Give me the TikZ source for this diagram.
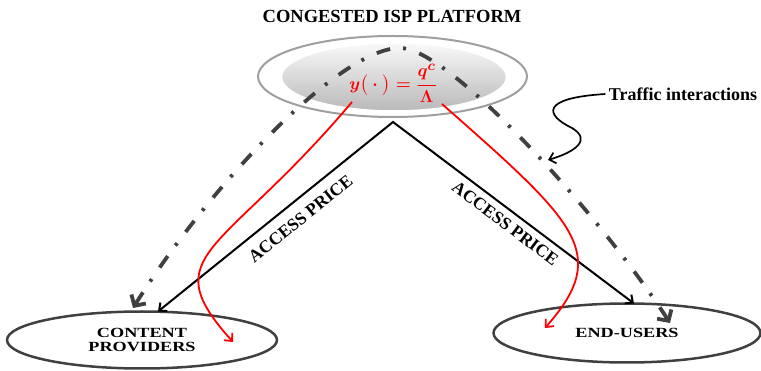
\documentclass[tikz,border=0pt]{standalone}
\usepackage{fontspec}
\setmainfont{Liberation Serif}
\usepackage{amsmath}
\usepackage{graphicx}
\usetikzlibrary{arrows.meta,shapes.geometric}

\newcommand{\widecaps}[1]{\scalebox{1.3}[1]{#1}}

\begin{document}
\begin{tikzpicture}[x=1pt,y=-1pt]

    \useasboundingbox (0,0) rectangle (761,371);

    % platform and the two sides
    \begin{scope}[every node/.style={ellipse,inner sep=0pt,outer sep=0pt}]
        \node[draw=gray!75,line width=2pt,fill=white,minimum width=269pt,minimum height=81pt] (isp) at (392.5,76.5) {};
        \node[draw=white,line width=1.5pt,top color=gray!5,bottom color=gray!55,minimum width=225pt,minimum height=68pt] (core) at (394,77) {};
        \node[draw=black!75,line width=2.5pt,minimum width=270pt,minimum height=57pt,
              align=center,font=\bfseries\fontsize{14}{14}\selectfont] (cp) at (142,340) {\widecaps{CONTENT}\\\widecaps{PROVIDERS}};
        \node[draw=black!75,line width=2.5pt,minimum width=267pt,minimum height=59pt,
              font=\bfseries\fontsize{14}{14}\selectfont] (eu) at (627,333) {\widecaps{END-USERS}};
    \end{scope}

    \node[font=\bfseries\fontsize{18.5}{20}\selectfont] (title) at (392,16.5) {CONGESTED ISP PLATFORM};
    \node[font=\bfseries\fontsize{18}{20}\selectfont] (trf) at (683,94) {Traffic interactions};
    \node[text=red,font=\boldmath\fontsize{19}{21}\selectfont] (fmla) at (393,83) {$y\big(\cdot\big)=\dfrac{q^{c}}{\Lambda}$};

    \coordinate (apex) at (393,122);
    \coordinate (cptip) at ([xshift=16pt]cp.north);
    \coordinate (eutip) at ([xshift=7pt]eu.north);
    \coordinate (crest) at (400,48);
    \coordinate (dl) at (133,308);
    \coordinate (dr) at (670,323);

    % access prices
    \draw[line width=2pt,line join=miter,{Straight Barb[length=6pt,width=11pt]}-{Straight Barb[length=6pt,width=11pt]}]
        (cptip) -- (apex) -- (eutip);
    \begin{scope}[every node/.style={sloped,font=\bfseries\fontsize{17.5}{18}\selectfont}]
        \path (apex) -- node[pos=.44,below=8pt] {ACCESS PRICE} (cptip);
        \path (apex) -- node[pos=.5,below=4pt] {ACCESS PRICE} (eutip);
    \end{scope}

    % congestion feedback
    \draw[red,line width=1.8pt,-{Straight Barb[length=6pt,width=11pt]}]
        (352,102) .. controls (222,256) and (153,253) .. (233,342);
    \draw[red,line width=1.8pt,-{Straight Barb[length=6pt,width=11pt]}]
        (442,104) .. controls (577,223) and (611,253) .. (545,328);

    % traffic
    \draw[black!75,line width=3.8pt,dash pattern=on 14pt off 13pt on 3pt off 14pt,
          {Straight Barb[length=8pt,width=17pt]}-{Straight Barb[length=8pt,width=17pt]}]
        (dl) .. controls (210,185) and (340,48) .. (crest)
             .. controls (450,48) and (600,215) .. (dr);

    \draw[line width=1.7pt,-{Straight Barb[length=6pt,width=11pt]}]
        (trf.west) .. controls (540,98) and (545,115) .. (572,128)
                   .. controls (592,140) and (575,152) .. (548,160);

\end{tikzpicture}
\end{document}
